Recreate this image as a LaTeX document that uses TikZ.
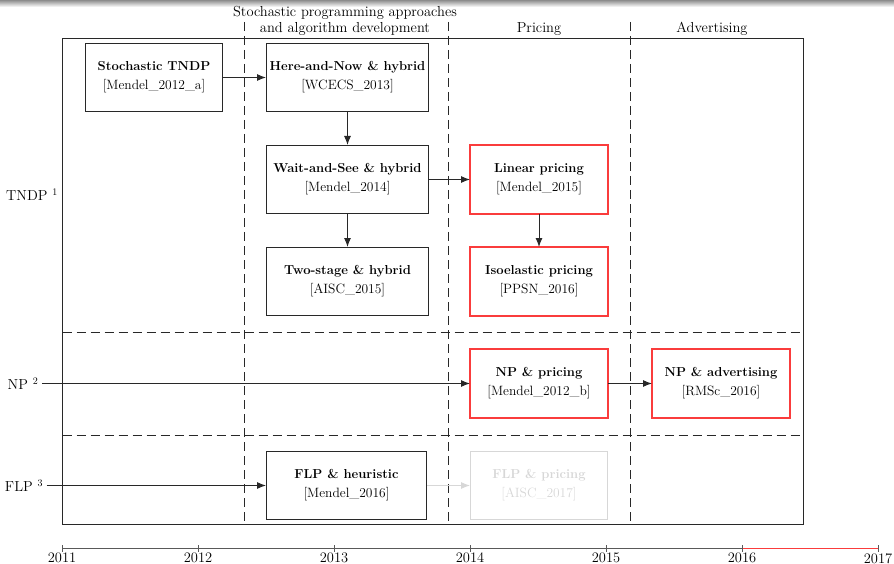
\documentclass[tikz,border=0pt]{standalone}
\usepackage{tikz}
\usetikzlibrary{arrows.meta}

\definecolor{rossobordo}{RGB}{250,60,60}
\definecolor{grigiolinea}{RGB}{40,40,40}
\definecolor{grigiochiaro}{RGB}{215,215,215}

\newcommand{\voce}[2]{\textbf{#1}\\[4pt]{\fontsize{13.5}{16}\selectfont[#2]}}

\begin{document}
\begin{tikzpicture}[x=1pt, y=-1pt,
  box/.style={draw=grigiolinea, line width=1pt, minimum width=137, minimum height=68,
    inner sep=2pt, align=center, font=\fontsize{13}{15}\selectfont},
  widebox/.style={box, minimum width=162},
  redbox/.style={box, draw=none},
  bordorosso/.style={draw=rossobordo, line width=1.2pt},
  greybox/.style={box, draw=grigiochiaro, text=grigiochiaro},
  freccia/.style={-{Latex[length=9pt,width=7pt]}, line width=1pt, grigiolinea},
  separa/.style={dash pattern=on 9pt off 5pt, line width=1pt, grigiolinea},
  etichetta/.style={font=\fontsize{14.5}{17}\selectfont}]

\useasboundingbox (0,0) rectangle (894,564);

% Ombra in alto
\shade[top color=black!45, bottom color=white] (0,0) rectangle (894,7);

% Titoli delle colonne
\node[etichetta] (spa) at (345,13) {Stochastic programming approaches};
\node[etichetta] (spb) at (345,29) {and algorithm development};
\node[etichetta] (pric) at (539,29) {Pricing};
\node[etichetta] (adv) at (712,29) {Advertising};

% Cornice e separatori
\draw[line width=1pt, grigiolinea] (62.5,38.5) rectangle (803.5,524.5);
\foreach \x in {244.5,448.5,630.5}
  \draw[separa] (\x,22) -- (\x,524.5);
\foreach \y in {332.5,435.5}
  \draw[separa] (62.5,\y) -- (803.5,\y);

% Etichette delle righe
\node[etichetta] (tndp) at (32,195) {TNDP $^1$};
\node[etichetta] (np) at (23,383.5) {NP $^2$};
\node[etichetta] (flp) at (24,485.5) {FLP $^3$};

% Riquadri
\node[box] (stoc) at (154,77.5) {\voce{Stochastic TNDP}{Mendel\_2012\_a}};
\node[widebox] (hn) at (347.5,77.5) {\voce{Here-and-Now \& hybrid}{WCECS\_2013}};
\node[widebox] (ws) at (347.5,179.5) {\voce{Wait-and-See \& hybrid}{Mendel\_2014}};
\node[widebox] (ts) at (347.5,281.5) {\voce{Two-stage \& hybrid}{AISC\_2015}};
\node[redbox] (lin) at (539,179.5) {\voce{Linear pricing}{Mendel\_2015}};
\node[redbox] (iso) at (539,281.5) {\voce{Isoelastic pricing}{PPSN\_2016}};
\node[redbox] (npp) at (539,383.5) {\voce{NP \& pricing}{Mendel\_2012\_b}};
\node[redbox] (npa) at (721,383.5) {\voce{NP \& advertising}{RMSc\_2016}};
\node[box, minimum width=160] (flph) at (346.5,485.5) {\voce{FLP \& heuristic}{Mendel\_2016}};
\node[greybox] (flpp) at (539,485.5) {\voce{FLP \& pricing}{AISC\_2017}};

% Bordi rossi
\foreach \n in {lin,iso,npp,npa}
  \draw[bordorosso] (\n.north west) rectangle (\n.south east);

% Frecce
\draw[freccia] (stoc) -- (hn);
\draw[freccia] (hn) -- (ws);
\draw[freccia] (ws) -- (ts);
\draw[freccia] (ws) -- (lin);
\draw[freccia] (lin) -- (iso);
\draw[freccia] (np.east) -- (npp.west);
\draw[freccia] (npp) -- (npa);
\draw[freccia] (flp.east) -- (flph.west);
\draw[freccia, grigiochiaro] (flph) -- (flpp);

% Asse dei tempi
\draw[line width=1pt, black!65] (62,548.5) -- (743,548.5);
\draw[line width=1pt, rossobordo] (743,548.5) -- (878,548.5);
\foreach \a [count=\i from 0] in {2011,...,2017} {
  \draw[line width=1pt, black!65] (62.5+136*\i,545) -- ++(0,7);
  \node[etichetta, below, inner sep=1pt] (anno\a) at (62+136*\i,552) {\a};
}

\end{tikzpicture}
\end{document}
